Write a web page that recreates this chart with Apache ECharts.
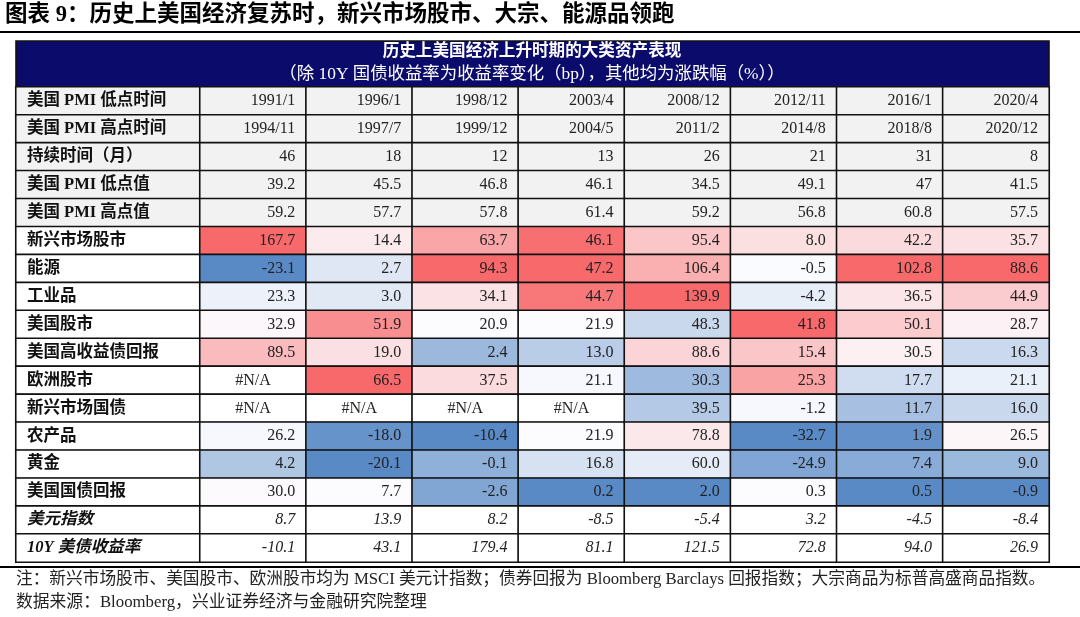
<!DOCTYPE html>
<html><head><meta charset="utf-8">
<script src="https://cdn.jsdelivr.net/npm/echarts@6/dist/echarts.min.js"></script>
<style>html,body{margin:0;padding:0;background:#fff}#c{width:1080px;height:617px}</style>
</head><body><div id="c"></div>
<script>
// ---------------- data ----------------
const chartTitle = '图表 9：历史上美国经济复苏时，新兴市场股市、大宗、能源品领跑';
const headerLine1 = '历史上美国经济上升时期的大类资产表现';
const headerLine2 = '（除 10Y 国债收益率为收益率变化（bp），其他均为涨跌幅（%））';
const footNote1 = '注：新兴市场股市、美国股市、欧洲股市均为 MSCI 美元计指数；债券回报为 Bloomberg Barclays 回报指数；大宗商品为标普高盛商品指数。';
const footNote2 = '数据来源：Bloomberg，兴业证券经济与金融研究院整理';

const rowLabels = ['美国 PMI 低点时间','美国 PMI 高点时间','持续时间（月）','美国 PMI 低点值','美国 PMI 高点值',
  '新兴市场股市','能源','工业品','美国股市','美国高收益债回报','欧洲股市','新兴市场国债','农产品','黄金','美国国债回报',
  '美元指数','10Y 美债收益率'];
const columns = ['c1','c2','c3','c4','c5','c6','c7','c8'];

const pmiLowTime   = ['1991/1','1996/1','1998/12','2003/4','2008/12','2012/11','2016/1','2020/4'];
const pmiHighTime  = ['1994/11','1997/7','1999/12','2004/5','2011/2','2014/8','2018/8','2020/12'];
const durationMonths = [46,18,12,13,26,21,31,8];
const pmiLowValue  = [39.2,45.5,46.8,46.1,34.5,49.1,47,41.5];
const pmiHighValue = [59.2,57.7,57.8,61.4,59.2,56.8,60.8,57.5];

const emEquity     = [167.7,14.4,63.7,46.1,95.4,8.0,42.2,35.7];
const energy       = [-23.1,2.7,94.3,47.2,106.4,-0.5,102.8,88.6];
const industrials  = [23.3,3.0,34.1,44.7,139.9,-4.2,36.5,44.9];
const usEquity     = [32.9,51.9,20.9,21.9,48.3,41.8,50.1,28.7];
const usHighYield  = [89.5,19.0,2.4,13.0,88.6,15.4,30.5,16.3];
const euEquity     = [null,66.5,37.5,21.1,30.3,25.3,17.7,21.1];
const emBonds      = [null,null,null,null,39.5,-1.2,11.7,16.0];
const agriculture  = [26.2,-18.0,-10.4,21.9,78.8,-32.7,1.9,26.5];
const gold         = [4.2,-20.1,-0.1,16.8,60.0,-24.9,7.4,9.0];
const usTreasury   = [30.0,7.7,-2.6,0.2,2.0,0.3,0.5,-0.9];

const dollarIndex  = [8.7,13.9,8.2,-8.5,-5.4,3.2,-4.5,-8.4];
const us10yYieldBp = [-10.1,43.1,179.4,81.1,121.5,72.8,94.0,26.9];

// ---------------- build ----------------
const infoRows = [pmiLowTime, pmiHighTime, durationMonths, pmiLowValue, pmiHighValue];
const heatRows = [emEquity, energy, industrials, usEquity, usHighYield, euEquity, emBonds, agriculture, gold, usTreasury];
const italicRows = [dollarIndex, us10yYieldBp];

const LOW = [90,138,198], MID = [252,252,255], HIGH = [248,105,107];
function mix(a,b,t){return 'rgb('+a.map((v,i)=>Math.round(v+(b[i]-v)*t)).join(',')+')';}
function median(arr){const s=arr.slice().sort((a,b)=>a-b);const n=s.length;return n%2?s[(n-1)/2]:(s[n/2-1]+s[n/2])/2;}
function cellColor(v, colVals){
  const mn=Math.min(...colVals), mx=Math.max(...colVals), md=median(colVals);
  if (v<=md) return mix(LOW,MID,(v-mn)/((md-mn)||1));
  return mix(MID,HIGH,(v-md)/((mx-md)||1));
}

const serif = "'Liberation Serif','Noto Sans CJK SC',serif";
const GRAY = '#f2f2f2';
const border = {borderColor:'#111', borderWidth:1.6};

const infoData = [];
infoRows.forEach((row,r)=>row.forEach((v,c)=>infoData.push({value:[c,r,0],txt:String(v),itemStyle:{color:GRAY}})));

const heatData = [];
for (let c=0;c<columns.length;c++){
  const colVals = heatRows.map(r=>r[c]).filter(v=>v!==null);
  heatRows.forEach((row,i)=>{
    const v=row[c];
    if (v===null) heatData.push({value:[c,i+5,0],txt:'#N/A',itemStyle:{color:'#ffffff'},label:{position:'inside'}});
    else heatData.push({value:[c,i+5,v],txt:v.toFixed(1),itemStyle:{color:cellColor(v,colVals)}});
  });
}

const italicData = [];
italicRows.forEach((row,i)=>row.forEach((v,c)=>italicData.push({value:[c,i+15,0],txt:v.toFixed(1),itemStyle:{color:'#ffffff'}})));

const labelData = rowLabels.map((l,r)=>({value:[0,r,0],txt:l,itemStyle:{color:r<5?GRAY:'#ffffff'},
  label: r>=15?{fontStyle:'italic'}:{} }));

const valueLabel = {show:true,position:'insideRight',distance:12,fontFamily:serif,fontSize:16,color:'#222',
  formatter:p=>p.data.txt};

const rowAxis = (gi)=>({type:'category',gridIndex:gi,data:rowLabels,inverse:true,show:false});

const option = {
  animation:false,
  backgroundColor:'#ffffff',
  grid:[
    {left:16,top:87,width:184,height:475},
    {left:200,top:87,width:849,height:475}
  ],
  xAxis:[
    {type:'category',gridIndex:0,data:['label'],show:false},
    {type:'category',gridIndex:1,data:columns,show:false}
  ],
  yAxis:[rowAxis(0),rowAxis(1)],
  series:[
    {type:'heatmap',xAxisIndex:0,yAxisIndex:0,data:labelData,itemStyle:border,
      label:{show:true,position:'insideLeft',distance:12,fontFamily:serif,fontWeight:'bold',fontSize:16.5,color:'#111',formatter:p=>p.data.txt},
      emphasis:{disabled:true}},
    {type:'heatmap',xAxisIndex:1,yAxisIndex:1,data:infoData,itemStyle:border,label:valueLabel,emphasis:{disabled:true}},
    {type:'heatmap',xAxisIndex:1,yAxisIndex:1,data:heatData,itemStyle:border,label:valueLabel,emphasis:{disabled:true}},
    {type:'heatmap',xAxisIndex:1,yAxisIndex:1,data:italicData,itemStyle:border,
      label:Object.assign({},valueLabel,{fontStyle:'italic'}),emphasis:{disabled:true}}
  ],
  graphic:[
    {type:'text',left:5,top:4,style:{text:chartTitle,font:"bold 22.5px "+serif,fill:'#000'}},
    {type:'line',shape:{x1:0,y1:32,x2:1080,y2:32},style:{stroke:'#000',lineWidth:2}},
    {type:'rect',shape:{x:16,y:41,width:1033,height:46},style:{fill:'#0b0b6b',stroke:'#111',lineWidth:1.6}},
    {type:'text',x:532,y:52,style:{text:headerLine1,font:"bold 16.6px "+serif,fill:'#fff',align:'center',verticalAlign:'middle'}},
    {type:'text',x:532,y:74,style:{text:headerLine2,font:"17.4px "+serif,fill:'#fff',align:'center',verticalAlign:'middle'}},
    {type:'line',shape:{x1:0,y1:567,x2:1080,y2:567},style:{stroke:'#000',lineWidth:2}},
    {type:'text',x:16,y:580,style:{text:footNote1,font:"16.7px "+serif,fill:'#222',verticalAlign:'middle'}},
    {type:'text',x:16,y:603,style:{text:footNote2,font:"16.8px "+serif,fill:'#222',verticalAlign:'middle'}}
  ]
};
const chart = echarts.init(document.getElementById('c'),null,{renderer:'canvas'});
chart.setOption(option);
</script></body></html>
